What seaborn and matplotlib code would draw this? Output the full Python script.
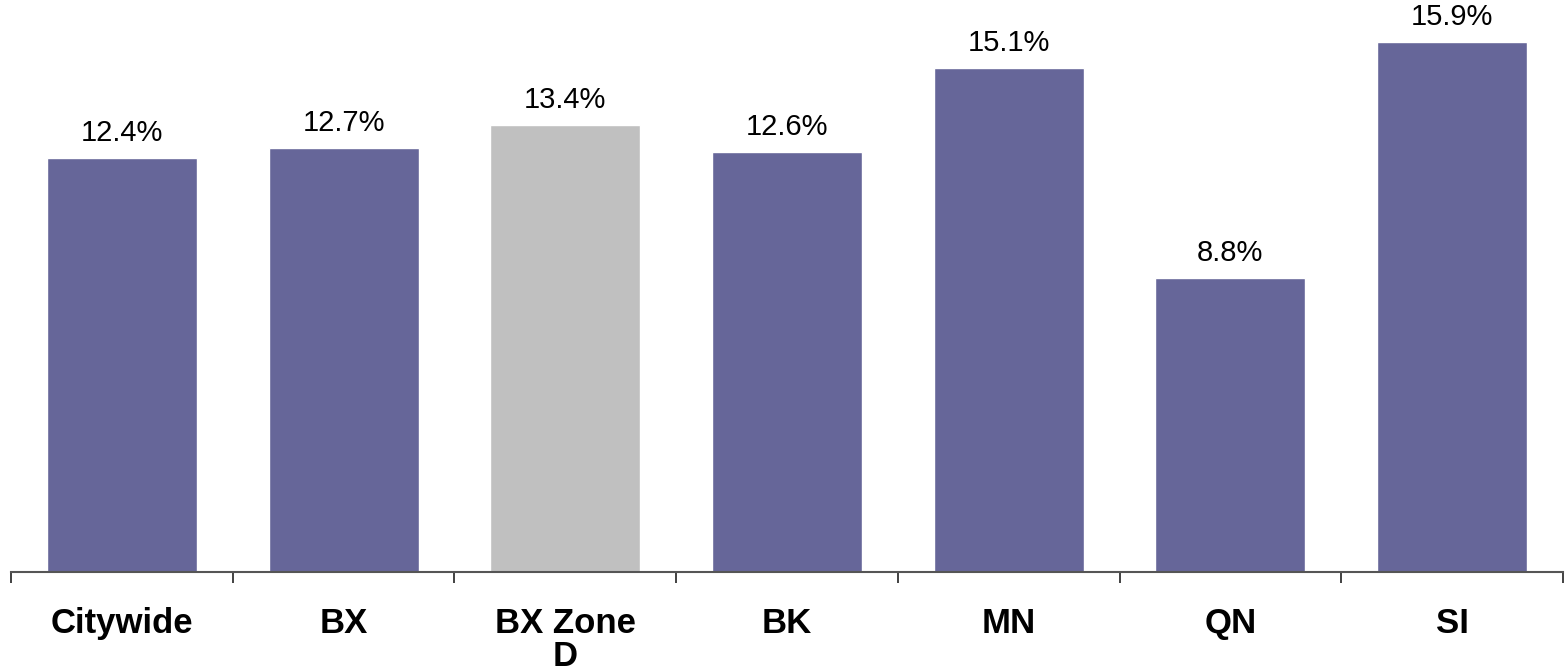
import matplotlib
matplotlib.use('Agg')
import matplotlib.pyplot as plt
import seaborn as sns
import pandas as pd

# data
categories = ['Citywide', 'BX', 'BX Zone\nD', 'BK', 'MN', 'QN', 'SI']
values = [12.4, 12.7, 13.4, 12.6, 15.1, 8.8, 15.9]
bar_colors = ['#666699', '#666699', '#C0C0C0', '#666699', '#666699', '#666699', '#666699']

df = pd.DataFrame({'area': categories, 'pct': values})

sns.set_style('white')
plt.rcParams['font.family'] = ['Liberation Sans', 'DejaVu Sans']

fig = plt.figure(figsize=(15.66, 6.72), dpi=100)
ax = fig.add_axes([11 / 1566, 100 / 672, 1552 / 1566, 572 / 672])

sns.barplot(data=df, x='area', y='pct', hue='area', palette=bar_colors,
            legend=False, width=0.677, saturation=1, ax=ax)

# value labels above the bars
for i, v in enumerate(values):
    ax.annotate(f'{v:.1f}%', (i, v), xytext=(0, 8), textcoords='offset points',
                ha='center', va='bottom', fontsize=21, color='black')

ax.set_xlim(-0.5, len(categories) - 0.5)
ax.set_ylim(0, 17.15)
ax.set_xlabel('')
ax.set_ylabel('')
ax.set_yticks([])

# category labels, ticks only at the boundaries
ax.set_xticks(range(len(categories)))
ax.set_xticklabels(categories, fontsize=25, fontweight='bold', linespacing=1.02, color='black')
ax.tick_params(axis='x', which='major', length=0, pad=25, bottom=True)
ax.set_xticks([i - 0.5 for i in range(len(categories) + 1)], minor=True)
ax.tick_params(axis='x', which='minor', length=8, width=1.3, color='#333333',
               direction='out', bottom=True)

for s in ['top', 'right', 'left']:
    ax.spines[s].set_visible(False)
ax.spines['bottom'].set_color('#555555')
ax.spines['bottom'].set_linewidth(1.5)

fig.savefig('out.png', dpi=100)
